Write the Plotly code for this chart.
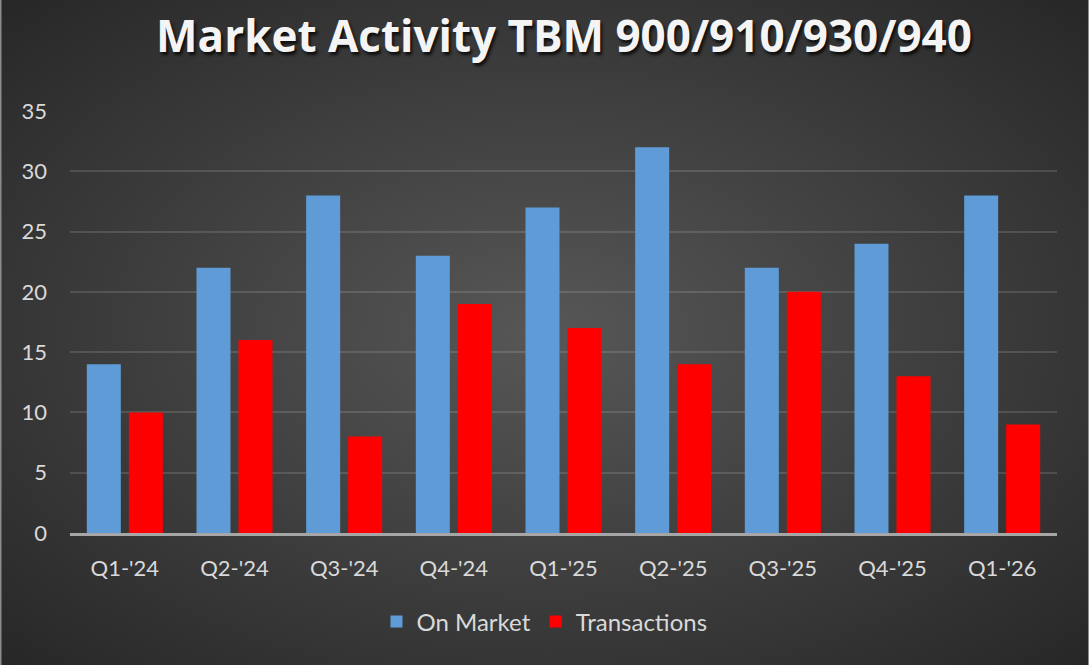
import plotly.graph_objects as go

categories = ["Q1-'24", "Q2-'24", "Q3-'24", "Q4-'24", "Q1-'25", "Q2-'25", "Q3-'25", "Q4-'25", "Q1-'26"]
on_market = [14, 22, 28, 23, 27, 32, 22, 24, 28]
transactions = [10, 16, 8, 19, 17, 14, 20, 13, 9]

W, H = 1089, 665
FONT = "Lato, 'Open Sans', sans-serif"
TFONT = "'Open Sans', Lato, sans-serif"

bg_svg = (
    "data:image/svg+xml;utf8,"
    "<svg xmlns='http://www.w3.org/2000/svg' width='1089' height='665' preserveAspectRatio='none' viewBox='0 0 1089 665'>"
    "<defs><radialGradient id='g' cx='0.5' cy='0.5' r='0.72'>"
    "<stop offset='0' stop-color='%23575757'/>"
    "<stop offset='1' stop-color='%23262626'/>"
    "</radialGradient></defs>"
    "<rect width='1089' height='665' fill='url(%23g)'/></svg>"
)

fig = go.Figure()
fig.add_trace(go.Bar(name="On Market", x=categories, y=on_market,
                     marker=dict(color="#5f9bd6", line=dict(width=0))))
fig.add_trace(go.Bar(name="Transactions", x=categories, y=transactions,
                     marker=dict(color="#ff0000", line=dict(width=0))))

fig.update_layout(
    width=W, height=H,
    margin=dict(l=0, r=0, t=0, b=0, autoexpand=False),
    paper_bgcolor="#3a3a3a",
    plot_bgcolor="rgba(0,0,0,0)",
    barmode="group",
    bargap=0.234,
    bargroupgap=0.19,
    images=[dict(source=bg_svg, xref="paper", yref="paper", x=0, y=1,
                 sizex=1, sizey=1, sizing="stretch", xanchor="left", yanchor="top",
                 layer="below")],
    title=dict(text="<b>Market Activity TBM 900/910/930/940</b>",
               x=564 / W, xanchor="center", y=1 - 37 / H, yanchor="middle",
               font=dict(family=TFONT, size=44, color="#f4f4f4",
                         shadow="2px 3px 3px rgba(0,0,0,0.75)")),
    xaxis=dict(domain=[70 / W, 1057 / W], showgrid=False, automargin=False,
               showline=True, linecolor="#a6a6a6", linewidth=3,
               tickfont=dict(family=FONT, size=22, color="#d9d9d9"),
               ticks="", ticklabelstandoff=14),
    yaxis=dict(domain=[1 - 533 / H, 1 - 111 / H], range=[0, 35], dtick=5, automargin=False,
               showgrid=True, gridcolor="rgba(255,255,255,0.13)", gridwidth=2,
               zeroline=False, showline=False,
               tickfont=dict(family=FONT, size=22, color="#d9d9d9"),
               ticks="", ticklabelstandoff=22),
    legend=dict(orientation="h", x=0.5, xanchor="center", y=1 - 622 / H, yanchor="middle",
                font=dict(family=FONT, size=24, color="#d9d9d9"),
                bgcolor="rgba(0,0,0,0)", itemwidth=30),
    shapes=[dict(type="line", xref="paper", yref="paper", x0=0, y0=0, x1=0, y1=1,
                 line=dict(color="#8c8c8c", width=3), layer="above"),
            dict(type="line", xref="paper", yref="paper", x0=1, y0=0, x1=1, y1=1,
                 line=dict(color="#8c8c8c", width=2), layer="above")],
)

fig.write_html("out.html")
